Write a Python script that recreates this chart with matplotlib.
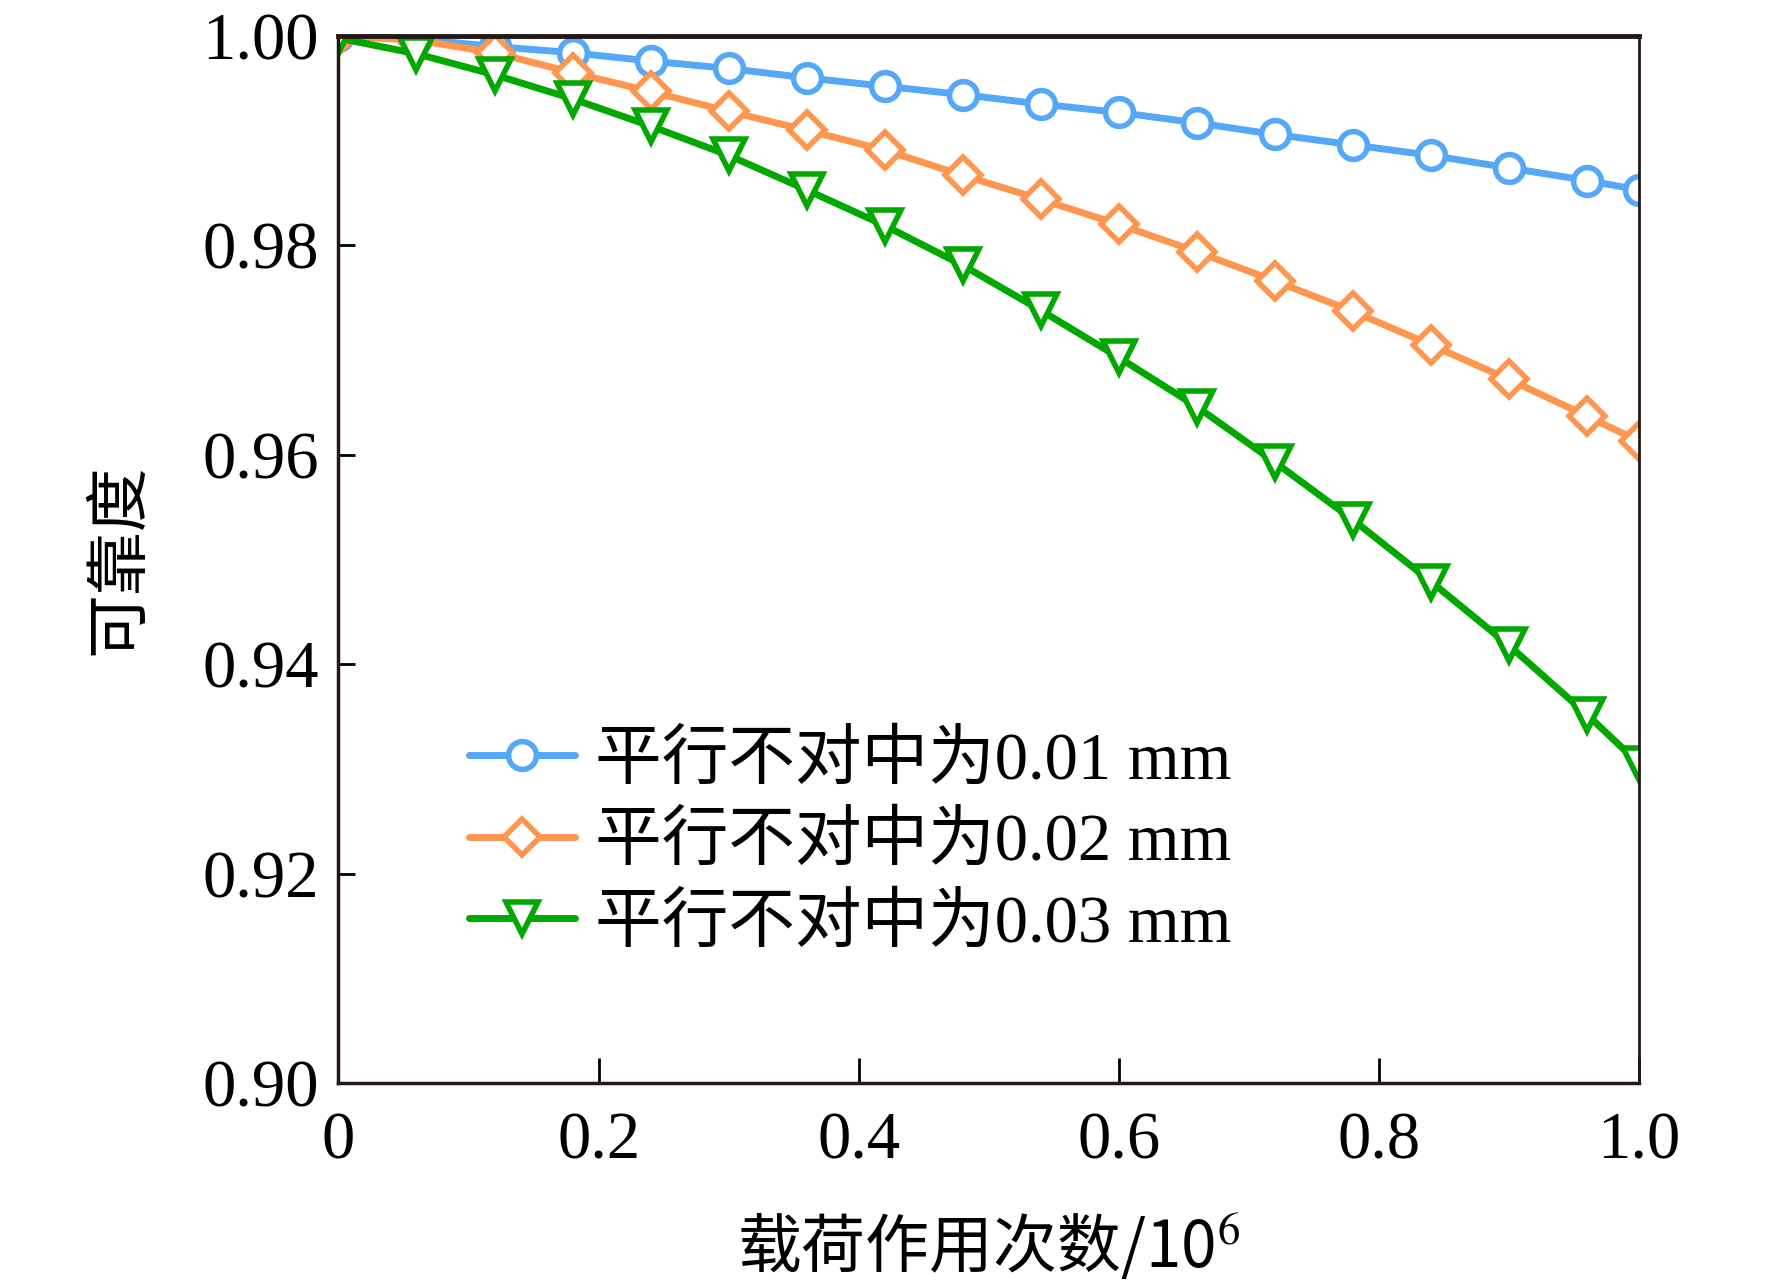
import numpy as np
import matplotlib.pyplot as plt

plt.rcParams['font.family'] = ['Liberation Serif', 'Noto Sans CJK SC']
plt.rcParams['mathtext.fontset'] = 'stix'

# load cycles (x 10^6)
cycles = [0, 0.06, 0.12, 0.18, 0.24, 0.30, 0.36, 0.42, 0.48, 0.54,
          0.60, 0.66, 0.72, 0.78, 0.84, 0.90, 0.96, 1.0]

rel_001 = [1.0, 0.9997, 0.9990, 0.9984, 0.9976, 0.9969, 0.9960, 0.9952, 0.9944,
           0.9935, 0.9927, 0.9917, 0.9906, 0.9896, 0.9886, 0.9874, 0.9862, 0.9853]
rel_002 = [1.0, 0.9996, 0.9984, 0.9965, 0.9947, 0.9928, 0.9910, 0.9891, 0.9867,
           0.9844, 0.9820, 0.9794, 0.9766, 0.9737, 0.9705, 0.9672, 0.9637, 0.9613]
rel_003 = [0.9998, 0.9983, 0.9963, 0.9940, 0.9914, 0.9886, 0.9853, 0.9819, 0.9781,
           0.9738, 0.9693, 0.9646, 0.9593, 0.9538, 0.9479, 0.9418, 0.9352, 0.9305]

labels = ['平行不对中为0.01 mm', '平行不对中为0.02 mm', '平行不对中为0.03 mm']
colors = ['#55A8F8', '#FF9650', '#00A800']
markers = ['o', 'D', 'v']
msizes = [20, 18, 23]

fig = plt.figure(figsize=(17.72, 12.85), dpi=100)
ax = fig.add_axes([0.191, 0.157, 0.734, 0.815])

for ys, lab, c, m, ms in zip([rel_001, rel_002, rel_003], labels, colors, markers, msizes):
    ax.plot(cycles, ys, color=c, lw=5, marker=m, markersize=ms,
            markerfacecolor='white', markeredgecolor=c, markeredgewidth=4,
            label=lab, solid_capstyle='round')

ax.set_xlim(0, 1.0)
ax.set_ylim(0.90, 1.00)
ax.set_xticks([0, 0.2, 0.4, 0.6, 0.8, 1.0])
ax.set_xticklabels(['0', '0.2', '0.4', '0.6', '0.8', '1.0'])
ax.set_yticks([0.90, 0.92, 0.94, 0.96, 0.98, 1.00])
ax.set_yticklabels(['0.90', '0.92', '0.94', '0.96', '0.98', '1.00'])

ax.tick_params(axis='x', direction='in', length=18, width=2, labelsize=48, pad=20)
ax.tick_params(axis='y', direction='in', length=12, width=2, labelsize=48, pad=14)

for side in ['left', 'bottom']:
    ax.spines[side].set_linewidth(2.5)
ax.spines['top'].set_linewidth(3.5)
ax.spines['right'].set_linewidth(2)
for s in ax.spines.values():
    s.set_color('#231815')

ax.set_xlabel('载荷作用次数/10$^6$', fontsize=46, labelpad=28,
              family=['Noto Sans CJK SC', 'Liberation Serif'])
ax.set_ylabel('可靠度', fontsize=46, labelpad=36,
              family=['Noto Sans CJK SC', 'Liberation Serif'])

ax.legend(loc='upper left', bbox_to_anchor=(0.1, 0.336), frameon=False,
          prop={'family': ['Liberation Serif', 'Noto Sans CJK SC'], 'size': 48},
          handlelength=1.6, handletextpad=0.3, labelspacing=0.3,
          borderpad=0, borderaxespad=0)

fig.savefig('out.png', dpi=100)
